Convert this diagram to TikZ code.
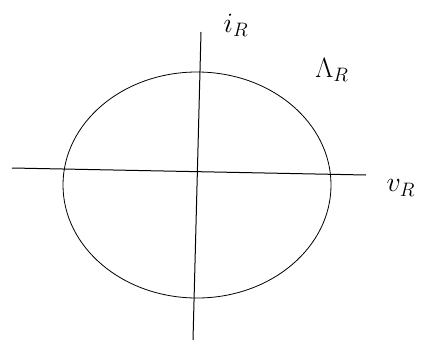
\documentclass[tikz,border=0pt]{standalone}
\begin{document}
\begin{tikzpicture}[x=1pt,y=-1pt,
  axis/.style={line width=1pt,black},
  curve/.style={line width=0.8pt,black},
  lbl/.style={font=\huge,inner sep=0pt,scale=1.35}]
\useasboundingbox (0,0) rectangle (430,345);
\coordinate (xl) at (12,168);
\coordinate (xr) at (366,175);
\coordinate (yt) at (201,32);
\coordinate (yb) at (193,340);
\draw[axis] (xl) -- (xr);
\draw[axis] (yt) -- (yb);
\draw[curve] (197,185) ellipse [x radius=134, y radius=113];
\node[lbl] (iR) at (236,25) {$i_R$};
\node[lbl] (LR) at (332,70) {$\Lambda_R$};
\node[lbl] (vR) at (401,188) {$v_R$};
\end{tikzpicture}
\end{document}
